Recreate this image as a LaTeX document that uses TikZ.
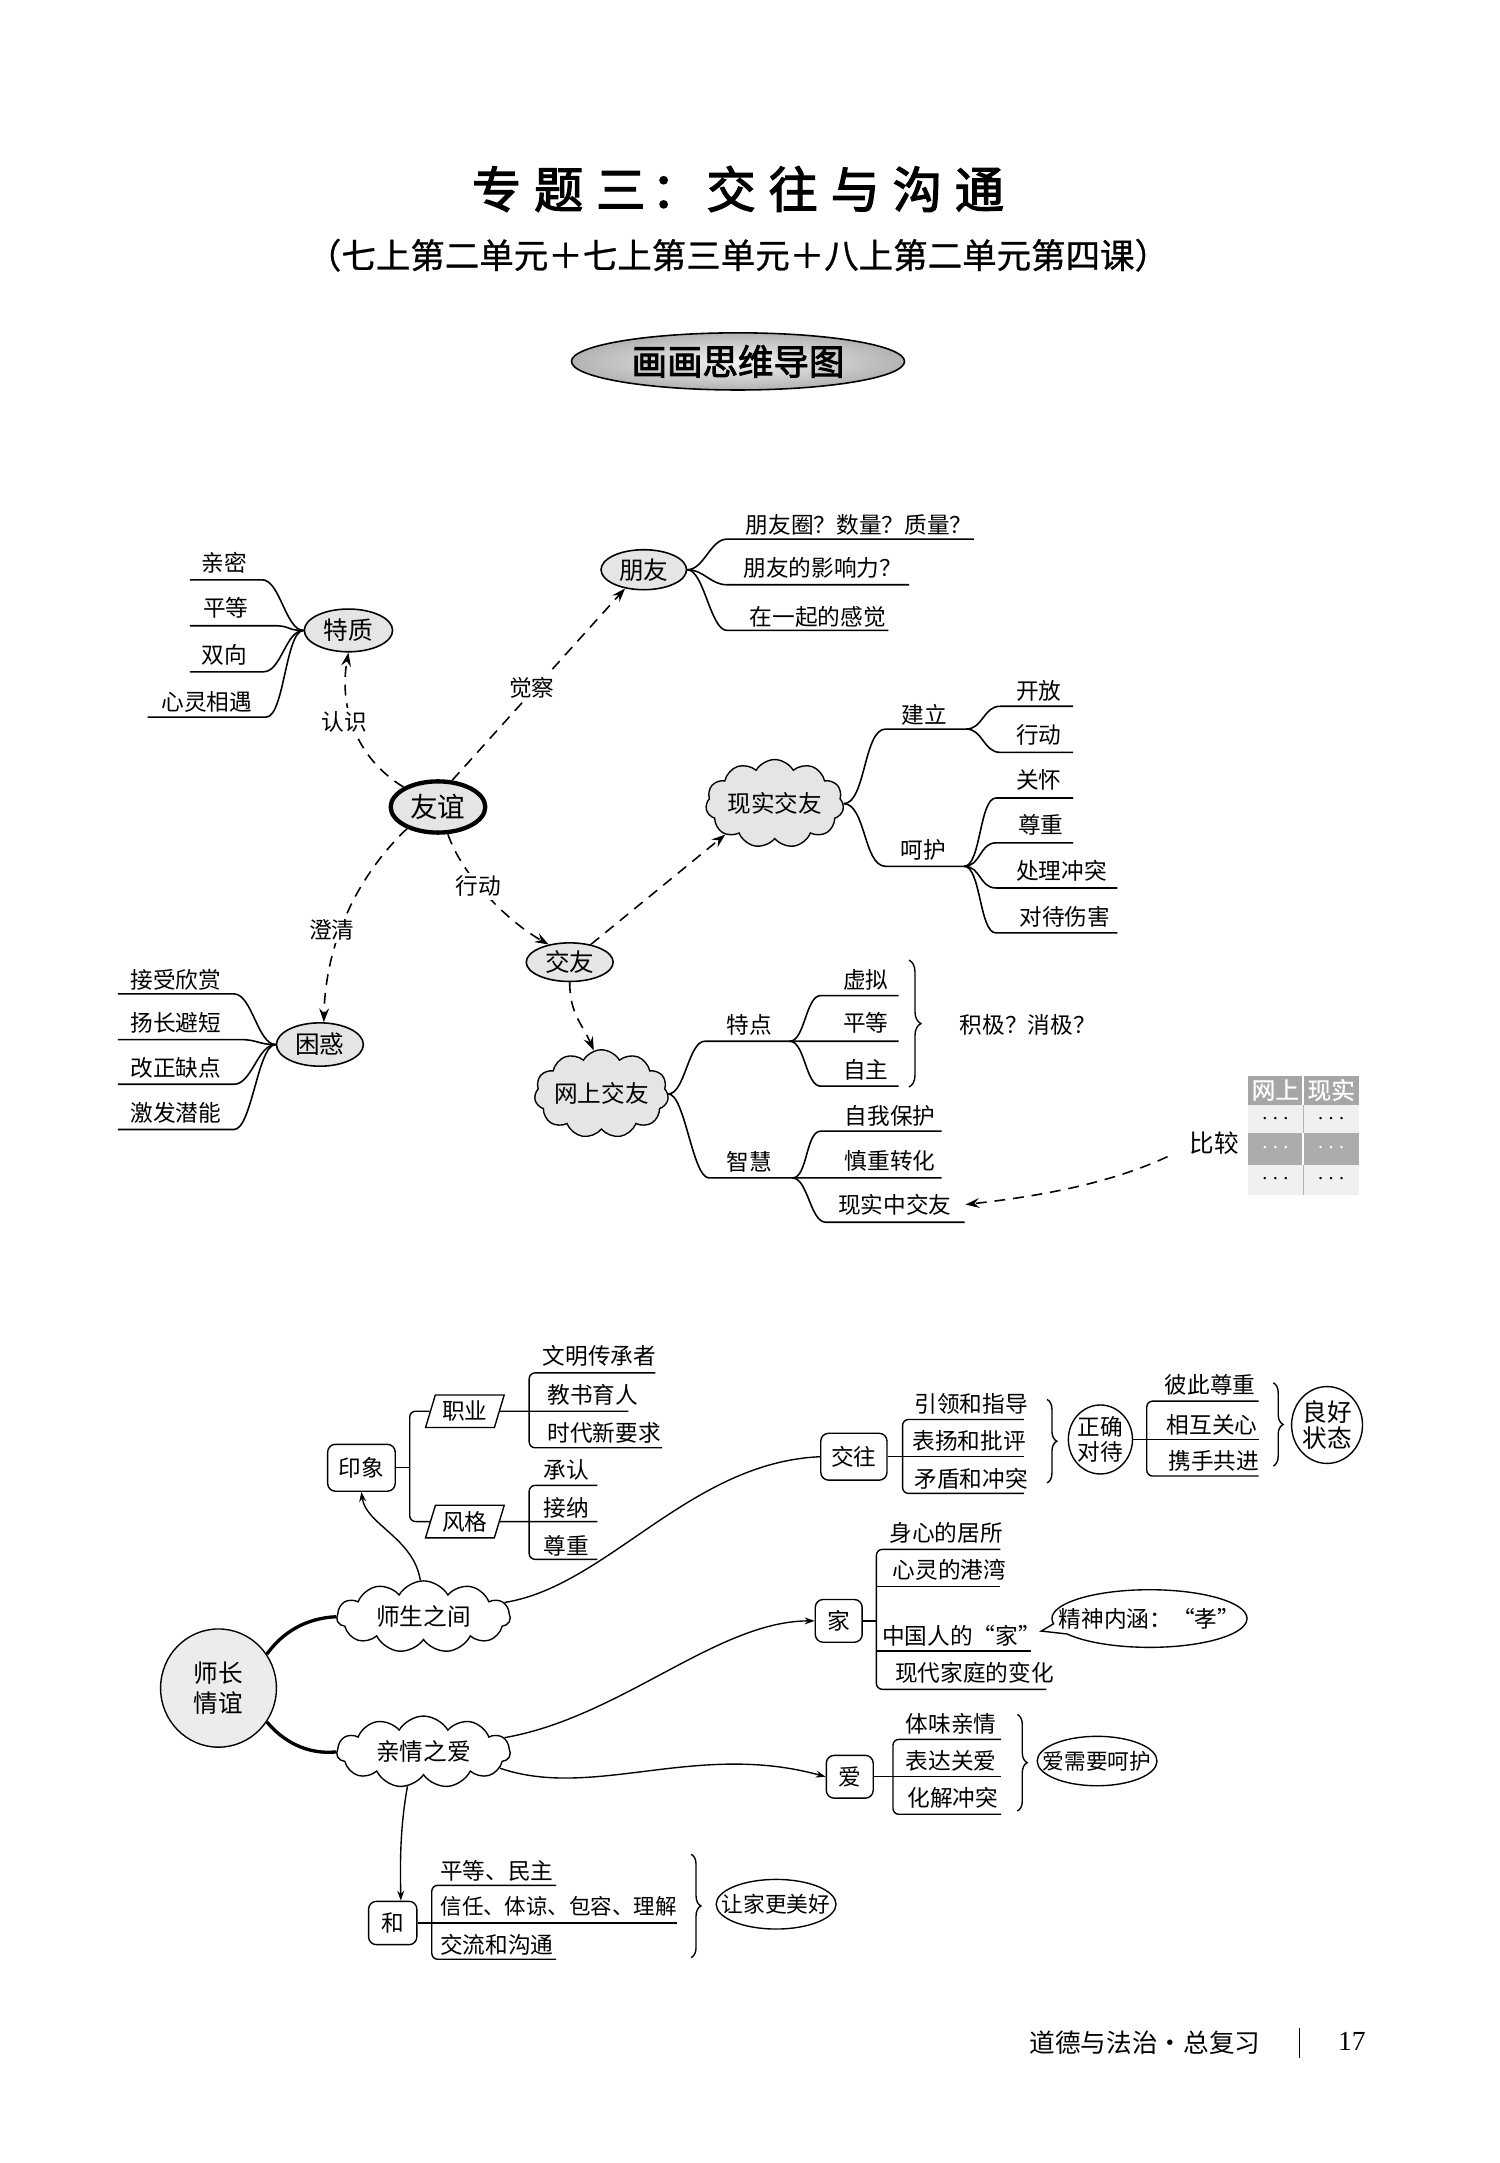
\documentclass[tikz,border=0pt]{standalone}
\usepackage{fontspec}
\setmainfont{Noto Sans CJK SC}
\newfontfamily\boldcjk{Noto Sans CJK SC}[FakeBold=2.5]
\newfontfamily\medcjk{Noto Sans CJK SC}[FakeBold=0.8]
\newfontfamily\serifnum{Liberation Serif}
\usetikzlibrary{arrows.meta,shapes.geometric,shapes.symbols,shapes.callouts,decorations.pathreplacing}
\tikzset{
  every node/.append style={font=\fontsize{11.5}{13}\selectfont, inner sep=1pt},
  ovalnode/.style={ellipse, draw, line width=0.8pt, fill=gray!20, inner sep=0pt, font=\fontsize{12.5}{14}\selectfont},
  cloudnode/.style={cloud, cloud puffs=11, cloud puff arc=120, cloud ignores aspect, draw, line width=0.7pt, inner sep=0pt, font=\fontsize{12}{14}\selectfont},
  rbox/.style={rectangle, rounded corners=4pt, draw, line width=0.7pt, inner sep=0pt, fill=white},
  pgram/.style={trapezium, trapezium left angle=70, trapezium right angle=110, trapezium stretches=true, draw, line width=0.7pt, inner sep=0pt, fill=white},
  oval2/.style={ellipse, draw, line width=0.7pt, inner sep=0pt, fill=white},
  tightoval/.style={ellipse, draw, line width=0.7pt, fill=white, inner xsep=-6pt, inner ysep=3.8pt, font=\fontsize{11}{12}\selectfont},
  dsh/.style={line width=0.8pt, dash pattern=on 5.5pt off 4pt},
  darr/.style={dsh, -{Stealth[length=7pt,width=5pt,inset=2.5pt]}},
  br/.style={line width=0.8pt},
  lnk/.style={line width=0.7pt},
  sarr/.style={lnk, -{Stealth[length=5pt,width=3.5pt]}},
  rc/.style={line width=0.7pt, rounded corners=3pt},
  brc/.style={line width=0.7pt, decorate, decoration={brace, amplitude=5pt}},
  lbl/.style={fill=white, inner sep=1.5pt},
}
\begin{document}
\begin{tikzpicture}[x=0.7pt,y=-0.7pt]
\useasboundingbox (0,0) rectangle (1087,1568);
\fill[white] (0,0) rectangle (1087,1568);

% ---------------- header ----------------
\node (title) at (535,137) {\boldcjk\fontsize{25}{28}\selectfont 专\kern6.5pt 题\kern6.5pt 三\kern3pt ：\kern3pt 交\kern6.5pt 往\kern6.5pt 与\kern6.5pt 沟\kern6.5pt 通};
\node (subtitle) at (535,185) {\medcjk\fontsize{17.5}{20}\selectfont （七上第二单元＋七上第三单元＋八上第二单元第四课）};
\node[ellipse, draw, line width=0.8pt, minimum width=169pt, minimum height=29pt, inner sep=0pt, inner color=gray!8, outer color=gray!60] (banner) at (535,262) {\boldcjk\fontsize{18}{20}\selectfont 画画思维导图};

% ---------------- upper map: nodes ----------------
\node[ovalnode, line width=2.2pt, minimum width=48pt, minimum height=26pt, font=\fontsize{14}{16}\selectfont] (yy) at (317.5,585) {友谊};
\node[ovalnode, minimum width=44.8pt, minimum height=21.7pt] (tz) at (252.6,457) {特质};
\node[ovalnode, minimum width=43.4pt, minimum height=20.3pt] (py) at (466.7,413) {朋友};
\node[ovalnode, minimum width=44.1pt, minimum height=19.6pt] (jy) at (413,697.5) {交友};
\node[ovalnode, minimum width=44.1pt, minimum height=22pt] (kh) at (231.9,757.2) {困惑};
\node[cloudnode, fill=gray!20, minimum width=70pt, minimum height=44.8pt] (xs) at (561.6,582.6) {现实交友};
\node[cloudnode, fill=gray!20, minimum width=68pt, minimum height=44.8pt] (ws) at (436,793) {网上交友};

% 特质 leaves
\node (tz1) at (162.5,408) {亲密};
\node (tz2) at (163.8,440.6) {平等};
\node (tz3) at (162.5,474.6) {双向};
\node (tz4) at (150,508.5) {心灵相遇};
\foreach \ya/\xa/\xb in {420.3/190/137.7, 453.6/198.5/137.7, 487/191/137.7, 519.8/193/107}
  \draw[br] (tz.west) .. controls +(-13,0) and +(13,0) .. (\xa,\ya) -- (\xb,\ya);

% 朋友 leaves
\node (py1) at (622.8,380.4) {朋友圈？数量？质量？};
\node (py2) at (596.4,411.8) {朋友的影响力？};
\node (py3) at (592.8,446.9) {在一起的感觉};
\foreach \ya/\xb in {390.8/706, 423.9/659, 457/644}
  \draw[br] (py.east) .. controls +(12,0) and +(-12,0) .. (527,\ya) -- (\xb,\ya);

% 现实交友 leaves
\node (jl) at (669.9,518) {建立};
\node (hh) at (669.4,616) {呵护};
\node (kf) at (753,500.5) {开放};
\node (xd) at (753,532.6) {行动};
\node (gh) at (753,565) {关怀};
\node (zz) at (754.5,597.8) {尊重};
\node (clct) at (769.6,631.6) {处理冲突};
\node (ddsh) at (771.8,664.3) {对待伤害};
\coordinate (jlp) at (700.4,528.5);
\coordinate (hhp) at (699,628);
\draw[br] (xs.east) .. controls +(16,0) and +(-16,0) .. (642,528.5) -- (jlp);
\draw[br] (xs.east) .. controls +(16,0) and +(-16,0) .. (642,628) -- (hhp);
\foreach \ya/\xb in {512/778, 545.4/778}
  \draw[br] (jlp) .. controls +(12,0) and +(-12,0) .. (725,\ya) -- (\xb,\ya);
\foreach \ya/\xb in {578.5/778, 611/778, 643.7/810, 676.3/810}
  \draw[br] (hhp) .. controls +(12,0) and +(-12,0) .. (722,\ya) -- (\xb,\ya);

% 网上交友 leaves
\node (td) at (543,742.8) {特点};
\node (zh) at (543,842.2) {智慧};
\node (xn) at (627.7,710) {虚拟};
\node (pd) at (627.7,741.5) {平等};
\node (zzu) at (627.7,775.4) {自主};
\node (zwbh) at (645.2,809.2) {自我保护};
\node (szzh) at (645.2,841.8) {慎重转化};
\node (xszjy) at (648.6,873.2) {现实中交友};
\coordinate (tdp) at (572.5,754.8);
\coordinate (zhp) at (574.5,853.9);
\draw[br] (ws.east) .. controls +(12,0) and +(-12,0) .. (511,754.8) -- (tdp) -- (651.5,754.8);
\draw[br] (ws.east) .. controls +(12,0) and +(-12,0) .. (514,853.9) -- (zhp) -- (682.6,853.9);
\draw[br] (tdp) .. controls +(11,0) and +(-11,0) .. (595,721.7) -- (651.5,721.7);
\draw[br] (tdp) .. controls +(11,0) and +(-11,0) .. (595,787.4) -- (651.5,787.4);
\draw[br] (zhp) .. controls +(11,0) and +(-11,0) .. (595,820) -- (682.6,820);
\draw[br] (zhp) .. controls +(11,0) and +(-11,0) .. (598.5,886) -- (699.3,886);
\draw[brc, decoration={brace, amplitude=6pt}] (659,696) -- (659,788);
\node (jjxj) at (745,742.8) {积极？消极？};

% 困惑 leaves
\node (kh1) at (127.5,710) {接受欣赏};
\node (kh2) at (127.5,741.5) {扬长避短};
\node (kh3) at (127.5,774) {改正缺点};
\node (kh4) at (127.5,806.8) {激发潜能};
\foreach \ya/\xa in {720.5/169.6, 753.6/174, 786/169.6, 818.8/169.6}
  \draw[br] (kh.west) .. controls +(-13,0) and +(13,0) .. (\xa,\ya) -- (85.5,\ya);

% dashed connectors
\draw[darr] (yy.150) .. controls (256,548) and (246,510) .. (tz.south);
\node[lbl] (lrs) at (249.8,523) {认识};
\draw[darr] (yy.62) -- (py.225);
\node[lbl] (ljc) at (385.6,498.7) {觉察};
\draw[darr] (yy.-70) .. controls (335,635) and (368,668) .. (jy.140);
\node[lbl] (lxd) at (346.9,642.5) {行动};
\draw[darr] (yy.-145) .. controls (262,632) and (236,680) .. (kh.80);
\node[lbl] (lcq) at (240.6,674) {澄清};
\draw[darr] (jy.40) -- (xs.212);
\draw[darr] (jy.south) .. controls (413,735) and (422,742) .. (ws.100);

% comparison table
\node[font=\fontsize{12.5}{14}\selectfont] (bj) at (880.2,828.5) {比较};
\fill[gray!70] (904.4,779.7) rectangle (985,800.7);
\fill[gray!12] (904.4,800.7) rectangle (985,821.3);
\fill[gray!65] (904.4,821.3) rectangle (985,844.2);
\fill[gray!12] (904.4,844.2) rectangle (985,866);
\draw[white, line width=0.8pt] (944.7,779.7) -- (944.7,800.7);
\draw[white, line width=0.8pt] (944.7,821.3) -- (944.7,844.2);
\draw[gray!60, line width=0.5pt] (944.7,800.7) -- (944.7,821.3);
\draw[gray!60, line width=0.5pt] (944.7,844.2) -- (944.7,866);
\node[text=white, font=\medcjk\fontsize{12}{13}\selectfont] (th1) at (924.5,790.2) {网上};
\node[text=white, font=\medcjk\fontsize{12}{13}\selectfont] (th2) at (965,790.2) {现实};
\node (c11) at (924.5,811) {$\cdots$};
\node (c12) at (965,811) {$\cdots$};
\node[text=white] (c21) at (924.5,832.7) {$\cdots$};
\node[text=white] (c22) at (965,832.7) {$\cdots$};
\node (c31) at (924.5,855) {$\cdots$};
\node (c32) at (965,855) {$\cdots$};
\draw[darr] ([xshift=-10pt]bj.south west) .. controls (800,860) and (745,868) .. ([xshift=6pt]xszjy.east);

% ---------------- lower map ----------------
\node[ellipse, draw, line width=0.7pt, fill=gray!15, inner sep=0pt, minimum width=58.8pt, minimum height=60pt, align=center, font=\fontsize{12.5}{15}\selectfont] (sz) at (158.4,1223.7) {师长\\情谊};
\node[cloudnode, fill=white, minimum width=88pt, minimum height=36.4pt] (ss) at (307,1172) {师生之间};
\node[cloudnode, fill=white, minimum width=88pt, minimum height=36.4pt] (qq) at (307,1270) {亲情之爱};
\draw[line width=1.7pt] (sz.35) .. controls (205,1183) and (222,1173) .. (ss.west);
\draw[line width=1.7pt] (sz.-35) .. controls (205,1262) and (222,1272) .. (qq.west);

% 印象
\node[rbox, minimum width=34.3pt, minimum height=23.8pt] (yx) at (262,1064) {印象};
\node[pgram, minimum width=40pt, minimum height=16.5pt] (zy) at (337,1023) {职业};
\node[pgram, minimum width=40pt, minimum height=16.5pt] (fg) at (337,1103) {风格};
\coordinate (yxv) at (297,1064);
\draw[lnk] (yx.east) -- (yxv);
\draw[rc] (zy.west) -- (zy.west -| yxv) -- (fg.west -| yxv) -- (fg.west);
\draw[sarr] (ss.95) .. controls (300,1115) and (265,1105) .. (yx.south);

\node (zy1) at (434.6,983) {文明传承者};
\node (zy2) at (429.7,1010.9) {教书育人};
\node (zy3) at (437.9,1038.6) {时代新要求};
\draw[lnk] (zy.east) -- (455.6,1023);
\draw[rc] (475,995.2) -- (383.6,995.2) -- (383.6,1049.5) -- (480,1049.5);

\node (fg1) at (410.4,1065.2) {承认};
\node (fg2) at (410.4,1093) {接纳};
\node (fg3) at (410.4,1120.3) {尊重};
\draw[lnk] (fg.east) -- (433,1103);
\draw[rc] (433,1076.8) -- (383.6,1076.8) -- (383.6,1130.4) -- (433,1130.4);

% 交往
\node[rbox, minimum width=33.6pt, minimum height=23.8pt] (jw) at (619,1056) {交往};
\draw[lnk] (ss.10) .. controls (440,1150) and (500,1060) .. (jw.west);
\node (jw1) at (704,1018) {引领和指导};
\node (jw2) at (702.6,1044.7) {表扬和批评};
\node (jw3) at (704,1072) {矛盾和冲突};
\draw[lnk] (jw.east) -- (742.2,1056);
\draw[rc] (742.2,1029) -- (654.3,1029) -- (654.3,1082.6) -- (742.2,1082.6);
\draw[brc] (759,1014.5) -- (759,1075);
\node[oval2, minimum width=31.5pt, minimum height=35pt, align=center, font=\fontsize{11.5}{12.5}\selectfont] (zqdd) at (797.7,1043.5) {正确\\对待};
\node (zq1) at (877.3,1003.6) {彼此尊重};
\node (zq2) at (878.6,1032.6) {相互关心};
\node (zq3) at (880,1059.2) {携手共进};
\draw[lnk] (zqdd.east) -- (912.3,1043.5);
\draw[rc] (912.3,1015.7) -- (831.3,1015.7) -- (831.3,1070) -- (912.3,1070);
\draw[brc] (923,1002.4) -- (923,1062.8);
\node[oval2, minimum width=36pt, minimum height=39pt, align=center, font=\fontsize{12.5}{13}\selectfont] (lhzt) at (962,1033) {良好\\状态};

% 家
\node[rbox, minimum width=23.8pt, minimum height=21.7pt] (jia) at (608,1175) {家};
\draw[sarr] (qq.10) .. controls (450,1245) and (520,1175) .. (jia.west);
\node (jia1) at (686,1111) {身心的居所};
\node (jia2) at (688.4,1138.2) {心灵的港湾};
\node (jia3) at (696.9,1186) {中国人的“家”};
\node (jia4) at (706.5,1212.6) {现代家庭的变化};
\draw[lnk] (jia.east) -- (635.3,1175);
\draw[rc] (725.1,1123.2) -- (635.3,1123.2) -- (635.3,1224.6) -- (758.5,1224.6);
\draw[lnk] (635.3,1150.2) -- (725.1,1150.2);
\draw[lnk] (635.3,1196.9) -- (747.6,1196.9);
\coordinate (ptip) at (754.8,1182.4);
\node[ellipse callout, draw, line width=0.7pt, fill=white, inner xsep=-11pt, inner ysep=5pt, callout absolute pointer={(ptip)}, callout pointer arc=22] (jsnh) at (833.3,1173.3) {精神内涵：“孝”};

% 爱
\node[rbox, minimum width=23.8pt, minimum height=21.7pt] (ai) at (616,1288) {爱};
\draw[sarr] (qq.-12) .. controls (430,1305) and (505,1262) .. (ai.west);
\node (ai1) at (689.6,1250) {体味亲情};
\node (ai2) at (689.6,1276.6) {表达关爱};
\node (ai3) at (690.8,1303.1) {化解冲突};
\draw[lnk] (ai.east) -- (725.8,1288);
\draw[rc] (725.8,1260.9) -- (647.3,1260.9) -- (647.3,1315.2) -- (725.8,1315.2);
\draw[brc] (737.5,1242.8) -- (737.5,1312.8);
\node[tightoval] (axy) at (795.3,1276.6) {爱需要呵护};

% 和
\node[rbox, minimum width=24.5pt, minimum height=22pt] (he) at (284.7,1394) {和};
\draw[sarr] (qq.245) .. controls (290,1325) and (290,1350) .. (he.70);
\node (he1) at (360.2,1356.3) {平等、民主};
\node[font=\fontsize{10.9}{12}\selectfont] (he2) at (405,1381.6) {信任、体谅、包容、理解};
\node (he3) at (360.2,1410.1) {交流和沟通};
\draw[lnk] (he.east) -- (490.6,1394);
\draw[rc] (403.2,1366.7) -- (313,1366.7) -- (313,1420.3) -- (403.2,1420.3);
\draw[brc] (501,1344.2) -- (501,1419.1);
\node[tightoval] (rjg) at (562.6,1380.4) {让家更美好};

% ---------------- footer ----------------
\node (ft) at (830,1481) {\fontsize{13}{15}\selectfont 道德与法治·总复习};
\draw[line width=0.5pt] (942,1470) -- (942,1492);
\node (pg) at (980,1480) {\serifnum\fontsize{14}{16}\selectfont 17};
\end{tikzpicture}
\end{document}
